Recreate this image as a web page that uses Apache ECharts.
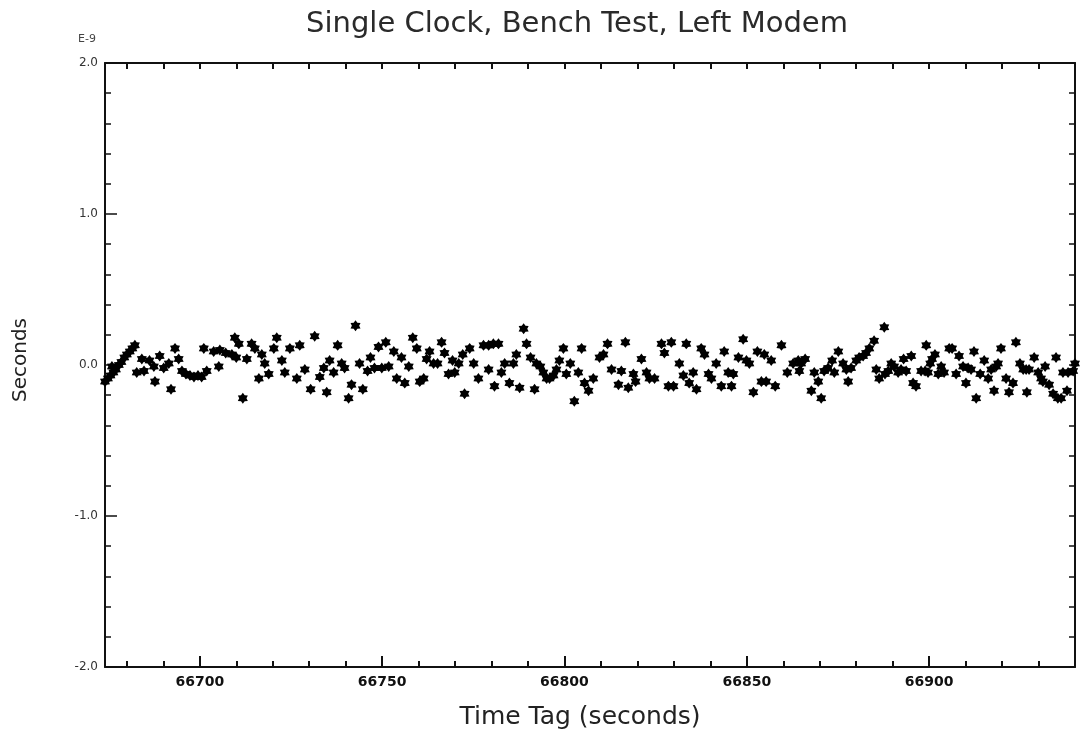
<!DOCTYPE html>
<html><head><meta charset="utf-8">
<script src="https://cdn.jsdelivr.net/npm/echarts@6/dist/echarts.min.js"></script>
<style>html,body{margin:0;padding:0;background:#fff}#c{width:1080px;height:746px}</style>
</head><body><div id="c"></div>
<script>
const chartTitle = "Single Clock, Bench Test, Left Modem";
const xTitle = "Time Tag (seconds)";
const yTitle = "Seconds";
const yExponent = "E-9";
const xMajorTicks = [66700, 66750, 66800, 66850, 66900];
const xMinorTicks = [66680,66690,66710,66720,66730,66740,66760,66770,66780,66790,66810,66820,66830,66840,66860,66870,66880,66890,66910,66920,66930];
const yMajorTicks = [-2, -1, 0, 1, 2];
const yMinorTicks = [-1.8,-1.6,-1.4,-1.2,-0.8,-0.6,-0.4,-0.2,0.2,0.4,0.6,0.8,1.2,1.4,1.6,1.8];
const timeTag = [
66674.0,66674.8,66675.5,66675.9,66676.3,66677.0,66677.8,66678.5,66679.3,66680.0,66680.8,66681.5,66682.2,
66682.7,66684.1,66684.7,66686.2,66687.4,66687.7,66689.0,66690.1,66691.5,66692.1,66693.2,66694.2,66695.1,66696.2,66697.3,66698.4,66699.5,66700.5,
66701.1,66701.9,66703.8,66705.2,66705.5,66707.1,66708.8,66709.6,66710.0,66710.7,66711.8,66712.9,66714.2,66715.1,66716.2,66717.0,66717.8,66718.9,
66720.3,66721.1,66722.5,66723.3,66724.7,66726.6,66727.4,66728.8,66730.4,66731.5,66732.9,66734.0,66734.8,66735.6,66736.7,66737.8,66738.9,66739.7,
66740.8,66741.6,66742.7,66743.8,66744.7,66746.0,66746.8,66747.9,66749.0,66749.9,66751.0,66751.8,66753.2,66754.0,66755.3,66756.2,66757.3,66758.4,
66759.5,66760.3,66761.4,66762.2,66763.0,66764.1,66765.2,66766.3,66767.1,66768.2,66769.3,66769.9,66771.0,66772.1,66772.6,66774.0,66775.1,66776.4,
66777.8,66779.2,66779.2,66780.5,66780.8,66781.9,66782.7,66783.6,66784.9,66786.0,66786.8,66787.7,66788.8,66789.6,66790.7,66791.8,66792.3,66793.4,
66794.2,66795.1,66795.9,66797.0,66797.8,66798.6,66799.7,66800.5,66801.6,66802.7,66803.8,66804.7,66805.5,66806.6,66807.9,66809.6,66810.7,66811.8,
66812.9,66814.8,66815.6,66816.7,66817.5,66818.9,66819.5,66821.1,66822.5,66823.3,66824.7,66826.6,66827.4,66828.5,66829.3,66829.9,66831.5,66832.6,
66833.4,66834.2,66835.3,66836.2,66837.5,66838.4,66839.5,66840.3,66841.6,66843.0,66843.8,66844.9,66845.8,66846.3,66847.7,66849.0,66849.9,66850.7,
66851.8,66852.9,66854.0,66854.8,66855.3,66856.7,66857.8,66859.5,66861.1,66862.7,66864.1,66864.4,66864.9,66866.0,66867.7,66868.5,66869.6,66870.4,
66871.2,66872.3,66873.4,66874.0,66875.1,66876.4,66877.3,66877.8,66878.6,66880.0,66880.8,66881.9,66882.7,66883.6,66884.9,66885.5,66886.3,66887.7,
66887.9,66888.8,66889.6,66890.4,66891.5,66892.3,66893.0,66893.7,66895.1,66895.6,66896.4,66897.8,66898.9,66899.2,66899.7,66900.3,66900.8,66901.6,
66902.5,66903.3,66904.1,66905.5,66906.3,66907.4,66908.2,66909.3,66910.1,66910.7,66911.5,66912.3,66912.9,66914.0,66915.1,66916.2,66917.0,66917.8,
66918.4,66918.9,66919.7,66921.1,66921.9,66923.0,66923.8,66924.9,66925.8,66926.6,66926.8,66927.4,66928.8,66929.9,66930.7,66931.2,66931.8,66932.9,
66934.0,66934.8,66935.3,66936.2,66936.7,66937.8,66938.1,66939.5,66940.0
];
const offsetNs = [
-0.11,-0.09,-0.07,-0.01,-0.05,-0.03,0.00,0.02,0.05,0.07,0.09,0.11,0.13,
-0.05,0.04,-0.04,0.03,-0.01,-0.11,0.06,-0.02,0.01,-0.16,0.11,0.04,-0.04,-0.06,-0.07,-0.08,-0.07,-0.08,
0.11,-0.04,0.09,-0.01,0.10,0.08,0.07,0.18,0.05,0.14,-0.22,0.04,0.14,0.11,-0.09,0.07,0.01,-0.06,
0.11,0.18,0.03,-0.05,0.11,-0.09,0.13,-0.03,-0.16,0.19,-0.08,-0.02,-0.18,0.03,-0.05,0.13,0.01,-0.02,
-0.22,-0.13,0.26,0.01,-0.16,-0.04,0.05,-0.02,0.12,-0.02,0.15,-0.01,0.09,-0.09,0.05,-0.12,-0.01,0.18,
0.11,-0.11,-0.09,0.04,0.09,0.01,0.01,0.15,0.08,-0.06,0.03,-0.05,0.01,0.07,-0.19,0.11,0.01,-0.09,
0.13,0.13,-0.03,0.14,-0.14,0.14,-0.05,0.01,-0.12,0.01,0.07,-0.15,0.24,0.14,0.05,-0.16,0.01,-0.01,
-0.05,-0.09,-0.09,-0.07,-0.03,0.03,0.11,-0.06,0.01,-0.24,-0.05,0.11,-0.12,-0.17,-0.09,0.05,0.07,0.14,
-0.03,-0.13,-0.04,0.15,-0.15,-0.06,-0.11,0.04,-0.05,-0.09,-0.09,0.14,0.08,-0.14,0.15,-0.14,0.01,-0.07,
0.14,-0.12,-0.05,-0.16,0.11,0.07,-0.06,-0.09,0.01,-0.14,0.09,-0.05,-0.14,-0.06,0.05,0.17,0.03,0.01,
-0.18,0.09,-0.11,0.07,-0.11,0.03,-0.14,0.13,-0.05,0.01,0.03,-0.04,0.01,0.04,-0.17,-0.05,-0.11,-0.22,
-0.04,-0.02,0.03,-0.05,0.09,0.01,-0.03,-0.11,-0.02,0.03,0.05,0.06,0.08,0.11,0.16,-0.03,-0.09,0.25,
-0.06,-0.04,0.01,-0.01,-0.05,-0.03,0.04,-0.04,0.06,-0.12,-0.14,-0.04,-0.04,0.13,-0.05,0.01,0.04,0.07,
-0.06,-0.01,-0.05,0.11,0.11,-0.06,0.06,-0.01,-0.12,-0.02,-0.03,0.09,-0.22,-0.06,0.03,-0.09,-0.03,-0.17,
-0.01,0.01,0.11,-0.09,-0.18,-0.12,0.15,0.01,-0.03,-0.03,-0.18,-0.03,0.05,-0.05,-0.09,-0.11,-0.01,-0.13,
-0.19,0.05,-0.22,-0.22,-0.05,-0.17,-0.05,-0.04,0.01
];
const points = timeTag.map((t, i) => [t, offsetNs[i]]);

const STAR = 'path://M0,-10L3.2,-5.5L8.66,-5L6.3,0L8.66,5L3.2,5.5L0,10L-3.2,5.5L-8.66,5L-6.3,0L-8.66,-5L-3.2,-5.5Z';
const FONT = 'DejaVu Sans';
const lineStyle = {color: '#111', width: 2};
const xRange = {min: 66674, max: 66940};
const chart = echarts.init(document.getElementById('c'), null, {renderer: 'canvas'});
chart.setOption({
  animation: false,
  backgroundColor: '#fff',
  title: {text: chartTitle, left: 572, top: 5, textAlign: 'center',
    textStyle: {fontFamily: FONT, fontSize: 29, fontWeight: 'normal', color: '#2a2a2a'}},
  grid: {left: 105, right: 5, top: 63, bottom: 79},
  graphic: [
    {type: 'text', x: 78, y: 34, style: {text: yExponent, font: '11px ' + FONT, fill: '#444'}},
    {type: 'text', x: 580, y: 705, style: {text: xTitle, font: '25px ' + FONT, fill: '#222', textAlign: 'center'}},
    {type: 'text', x: 11, y: 318, rotation: Math.PI / 2, originX: 0, originY: 0,
      style: {text: yTitle, font: '20px ' + FONT, fill: '#222', textAlign: 'right'}}
  ],
  xAxis: [
    Object.assign({type: 'value', position: 'bottom', splitLine: {show: false},
      axisLine: {onZero: false, lineStyle},
      axisTick: {inside: true, length: 11, customValues: xMajorTicks, lineStyle: {color: '#111', width: 2}},
      axisLabel: {customValues: xMajorTicks, margin: 8, fontFamily: FONT, fontSize: 14, fontWeight: 'bold', color: '#111',
        formatter: v => String(v)}}, xRange),
    Object.assign({type: 'value', position: 'bottom', splitLine: {show: false},
      axisLine: {show: false, onZero: false},
      axisTick: {inside: true, length: 6, customValues: xMinorTicks, lineStyle: {color: '#111', width: 2}},
      axisLabel: {show: false}}, xRange),
    Object.assign({type: 'value', position: 'top', splitLine: {show: false},
      axisLine: {onZero: false, lineStyle},
      axisTick: {inside: true, length: 6, customValues: xMajorTicks.concat(xMinorTicks), lineStyle: {color: '#111', width: 2}},
      axisLabel: {show: false}}, xRange)
  ],
  yAxis: [
    {type: 'value', min: -2, max: 2, position: 'left', splitLine: {show: false},
      axisLine: {onZero: false, lineStyle},
      axisTick: {inside: true, length: 12, customValues: yMajorTicks, lineStyle: {color: '#111', width: 1.5}},
      axisLabel: {customValues: yMajorTicks, margin: 7, fontFamily: FONT, fontSize: 12, color: '#333',
        formatter: v => v.toFixed(1)}},
    {type: 'value', min: -2, max: 2, position: 'left', splitLine: {show: false},
      axisLine: {show: false, onZero: false},
      axisTick: {inside: true, length: 6, customValues: yMinorTicks, lineStyle: {color: '#111', width: 1.5}},
      axisLabel: {show: false}},
    {type: 'value', min: -2, max: 2, position: 'right', splitLine: {show: false},
      axisLine: {onZero: false, lineStyle},
      axisTick: {inside: true, length: 6, customValues: yMajorTicks.concat(yMinorTicks), lineStyle: {color: '#111', width: 1.5}},
      axisLabel: {show: false}}
  ],
  series: [{
    type: 'scatter', xAxisIndex: 0, yAxisIndex: 0,
    symbol: STAR, symbolSize: [10, 11],
    itemStyle: {color: '#000', opacity: 1},
    data: points
  }]
});
</script></body></html>
